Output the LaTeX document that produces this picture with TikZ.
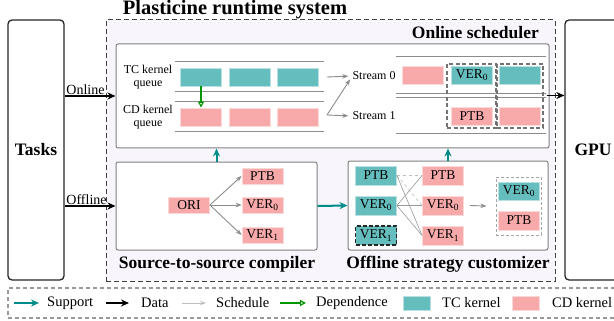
\documentclass[tikz,border=0pt]{standalone}
\usepackage{fontspec}
\setmainfont{Liberation Serif}
\usepackage{tikz}
\usetikzlibrary{positioning}
\usetikzlibrary{arrows.meta}
\pgfdeclarelayer{background}
\pgfdeclarelayer{foreground}
\pgfsetlayers{background,main,foreground}
\definecolor{tcfill}{RGB}{102,189,189}
\definecolor{cdfill}{RGB}{248,170,170}
\definecolor{suppcol}{RGB}{0,139,139}
\definecolor{depcol}{RGB}{0,150,0}
\definecolor{lavender}{RGB}{248,246,252}

\begin{document}
\begin{tikzpicture}[x=1pt,y=-1pt,
						kbox/.style={rectangle, inner sep=0pt, line width=0.8pt, minimum width=41pt, minimum height=18pt, font=\fontsize{13.5}{14}\selectfont},
						tcbox/.style={kbox, fill=tcfill, draw=tcfill!45},
						cdbox/.style={kbox, fill=cdfill, draw=cdfill!45},
						small/.style={font=\fontsize{12}{13}\selectfont, align=center, inner sep=0pt},
						heading/.style={font=\fontsize{17.5}{18}\selectfont\bfseries, inner sep=0pt},
						endbox/.style={rectangle, rounded corners=4pt, draw=black!85, line width=1.3pt, fill=white, font=\fontsize{17.5}{18}\selectfont\bfseries},
						panel/.style={rectangle, rounded corners=2pt, draw=black!50, fill=white, line width=1pt},
						colframe/.style={rectangle, draw=black!55, line width=1.2pt, dash pattern=on 4pt off 2.5pt},
						support/.style={-{Stealth[length=8pt,width=7pt]}, draw=suppcol, line width=2pt},
						data/.style={-{Stealth[length=8pt,width=7pt]}, line width=1.6pt},
						sched/.style={-{Stealth[length=6pt,width=4.5pt]}, draw=black!45, line width=0.9pt},
						depend/.style={-{Triangle[open,length=6pt,width=6pt]}, draw=depcol, line width=1.2pt},
						link/.style={draw=black!40, line width=0.6pt},
						queue/.style={draw=black!45, line width=1pt},
						flowlabel/.style={font=\fontsize{14}{14}\selectfont, inner sep=1pt},
						]
						\useasboundingbox (0,0) rectangle (614,321);
						%Frames
						\node[endbox, minimum width=56pt, minimum height=260pt]	(tasks)	at	(36,150)	{Tasks};
						\node[endbox, minimum width=56pt, minimum height=260pt]	(gpu)	at	(593,150)	{GPU};
						\node[font=\fontsize{20.5}{21}\selectfont\bfseries, inner sep=0pt]	(title)	at	(235,10)	{Plasticine runtime system};
						\node[heading, anchor=east]	(onlinelabel)	at	(539,33)	{Online scheduler};
						\node[heading]	(compilerlabel)	at	(217,264)	{Source-to-source compiler};
						\node[heading]	(customlabel)	at	(448,264)	{Offline strategy customizer};
						\node[rectangle, draw=black!40, line width=1.2pt, dash pattern=on 4pt off 3pt, minimum width=614pt, minimum height=30pt]	(legend)	at	(315,303)	{};
						
						%Kernel queues
						\node[small]	(tclabel)	at	(148,77)	{TC kernel\\queue};
						\node[small]	(cdlabel)	at	(148,117)	{CD kernel\\queue};
						\node[tcbox]	(tc1)	at	(201,77)	{};
						\node[tcbox]	(tc2)	at	(249.5,77)	{};
						\node[tcbox]	(tc3)	at	(297.5,77)	{};
						\node[cdbox]	(cd1)	at	(201,117)	{};
						\node[cdbox]	(cd2)	at	(249.5,117)	{};
						\node[cdbox]	(cd3)	at	(297.5,117)	{};
						\coordinate	(q0)	at	(327,77);
						\coordinate	(q1)	at	(327,115);
						
						%Streams
						\node[small]	(st0)	at	(374,76)	{Stream 0};
						\node[small]	(st1)	at	(374,116)	{Stream 1};
						\node[cdbox]	(s0a)	at	(423,75)	{};
						\node[tcbox]	(s0b)	at	(472,75)	{VER\textsubscript{0}};
						\node[tcbox]	(s0c)	at	(520,75)	{};
						\node[cdbox]	(s1b)	at	(472,116)	{PTB};
						\node[cdbox]	(s1c)	at	(520,116)	{};
						\node[colframe, minimum width=49pt, minimum height=64pt]	(col1)	at	(471.5,96)	{};
						\node[colframe, minimum width=46pt, minimum height=64pt]	(col2)	at	(520,96)	{};
						\coordinate	(sout)	at	(547,95.5);
						
						%Compiler
						\node[cdbox, minimum height=16pt]	(ori)	at	(189,205)	{ORI};
						\node[cdbox, minimum height=16pt]	(ptb)	at	(262.5,176)	{PTB};
						\node[cdbox, minimum height=16pt]	(ver0)	at	(262.5,205)	{VER\textsubscript{0}};
						\node[cdbox, minimum height=16pt]	(ver1)	at	(262.5,235)	{VER\textsubscript{1}};
						
						%Customizer
						\node[tcbox, minimum height=19pt]	(tptb)	at	(376,175.5)	{PTB};
						\node[tcbox, minimum height=19pt]	(tver0)	at	(376,205.5)	{VER\textsubscript{0}};
						\node[tcbox, minimum height=19pt, draw=black!85, line width=1.4pt, dash pattern=on 4pt off 2pt]	(tver1)	at	(376,235.5)	{VER\textsubscript{1}};
						\node[cdbox, minimum height=19pt]	(cptb)	at	(443,175.5)	{PTB};
						\node[cdbox, minimum height=19pt]	(cver0)	at	(443,205.5)	{VER\textsubscript{0}};
						\node[cdbox, minimum height=19pt]	(cver1)	at	(443,235.5)	{VER\textsubscript{1}};
						\node[colframe, draw=black!35, line width=1pt, dash pattern=on 3pt off 2pt, minimum width=45pt, minimum height=58pt]	(group)	at	(518.5,206)	{};
						\node[tcbox]	(gver0)	at	(519,191)	{VER\textsubscript{0}};
						\node[cdbox, minimum height=19pt]	(gptb)	at	(519,220.5)	{PTB};
						
						%Legend
						\coordinate	(lg1a)	at	(14,303);	\coordinate	(lg1b)	at	(39,303);
						\coordinate	(lg2a)	at	(106,303);	\coordinate	(lg2b)	at	(129,303);
						\coordinate	(lg3a)	at	(182,303);	\coordinate	(lg3b)	at	(206,303);
						\coordinate	(lg4a)	at	(280,303);	\coordinate	(lg4b)	at	(306,303);
						\node[small, anchor=west, font=\fontsize{14.5}{15}\selectfont]	(lgsupport)	at	(47,303)	{Support};
						\node[small, anchor=west, font=\fontsize{14.5}{15}\selectfont]	(lgdata)	at	(141,303)	{Data};
						\node[small, anchor=west, font=\fontsize{14.5}{15}\selectfont]	(lgsched)	at	(216,303)	{Schedule};
						\node[small, anchor=west, font=\fontsize{14.5}{15}\selectfont]	(lgdep)	at	(316,303)	{Dependence};
						\node[tcbox, minimum width=27pt, minimum height=14pt]	(lgtc)	at	(416.5,303.5)	{};
						\node[small, anchor=west, font=\fontsize{14.5}{15}\selectfont]	(lgtctext)	at	(442,303)	{TC kernel};
						\node[cdbox, minimum width=27pt, minimum height=14pt]	(lgcd)	at	(525.5,303.5)	{};
						\node[small, anchor=west, font=\fontsize{14.5}{15}\selectfont]	(lgcdtext)	at	(552,303)	{CD kernel};
						
						\begin{pgfonlayer}{background}
						\node[rectangle, draw=black!75, fill=lavender, line width=1pt, dash pattern=on 5pt off 3pt, minimum width=449pt, minimum height=261pt]	(runtime)	at	(330.5,150.5)	{};
						\node[panel, minimum width=433pt, minimum height=104pt]	(online)	at	(332.5,96)	{};
						\node[panel, minimum width=201pt, minimum height=88pt]	(compiler)	at	(216.5,206)	{};
						\node[panel, minimum width=200pt, minimum height=89pt]	(custom)	at	(448,205.5)	{};
						\draw[queue] (175,62) -- (324,62);
						\draw[queue] (175,92) -- (324,92);
						\draw[queue] (175,102) -- (324,102);
						\draw[queue] (175,132) -- (324,132);
						\draw[queue] (396,57) -- (546,57);
						\draw[queue] (396,94) -- (546,94);
						\draw[queue] (396,97.5) -- (546,97.5);
						\draw[queue] (396,134) -- (546,134);
						\end{pgfonlayer}
						
						\begin{pgfonlayer}{foreground}
						\draw[data] (tasks.east |- online.west) -- (online.west) node[flowlabel, above right, pos=0] {Online};
						\draw[data] (tasks.east |- compiler.west) -- (compiler.west) node[flowlabel, above right, pos=0] {Offline};
						\draw[data] (sout) -- (sout -| gpu.west);
						\draw[depend] (tc1.south) -- (cd1.north);
						\draw[sched, shorten >=4pt] (q0) -- (st0.west);
						\draw[sched, shorten >=4pt] (q1) -- (st0.west);
						\draw[sched, shorten >=4pt] (q1) -- (st1.west);
						\draw[sched] (ori.east) -- (ptb.west);
						\draw[sched] (ori.east) -- (ver0.west);
						\draw[sched] (ori.east) -- (ver1.west);
						\draw[support] (compiler.north) -- (compiler.north |- online.south);
						\draw[support] (custom.north) -- (custom.north |- online.south);
						\draw[support] (compiler.east) -- (custom.west);
						\draw[link, dashed, draw=black!25, line width=0.9pt] (tptb.east) -- (cptb.west);
						\draw[link, dashed, draw=black!25] (tptb.east) -- (cver0.west);
						\draw[link] (tptb.east) -- (cver1.west);
						\draw[link] (tver0.east) -- (cptb.west);
						\draw[link] (tver0.east) -- (cver0.west);
						\draw[link] (tver0.east) -- (cver1.west);
						\draw[sched] ([xshift=6pt]cver0.east) -- ([xshift=-9pt]group.west);
						\draw[support] (lg1a) -- (lg1b);
						\draw[data] (lg2a) -- (lg2b);
						\draw[sched, draw=black!25] (lg3a) -- (lg3b);
						\draw[depend] (lg4a) -- (lg4b);
						\end{pgfonlayer}
					\end{tikzpicture}
\end{document}
